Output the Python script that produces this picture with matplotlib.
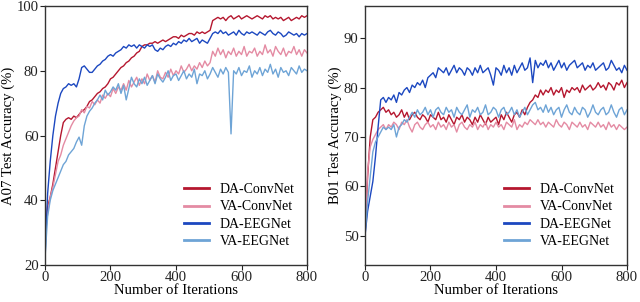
import numpy as np
import matplotlib
matplotlib.use("Agg")
import matplotlib.pyplot as plt

# iterations are sampled every 8 steps (0..800)
iters = np.arange(0, 801, 8)

# ---- A07 panel ----
da_conv_a = [28, 38, 41, 45, 50, 55, 60, 64, 65, 65.5,
             65, 66, 65.5, 66.5, 67.5, 68, 69, 70.5, 71, 72,
             73, 73.5, 74.5, 75, 76, 77.5, 78, 79, 80, 81,
             81.5, 82.5, 83, 84, 84.5, 85.5, 86, 87.5, 88, 88,
             88.5, 88.5, 89, 88.5, 89, 89.5, 89, 89.5, 90, 90.5,
             90.5, 90, 91, 90.5, 91, 91.5, 91.5, 91, 92, 91.5,
             92, 91.5, 92, 92.5, 95.5, 96, 96.5, 96, 96.5, 95.5,
             96.5, 97, 96, 96.5, 97, 96, 96.5, 97, 96.5, 96,
             96.5, 97, 96.5, 96, 97, 96.5, 97, 96, 96.5, 96,
             96.5, 95.5, 96, 96.5, 95.5, 96, 96.5, 96, 97, 96.5, 97]
va_conv_a = [28, 36, 41, 44, 48, 52, 54, 57, 59, 61,
             63, 64.5, 65.5, 66, 68, 67, 69, 68.5, 70.5, 69.5,
             71, 70, 72.5, 71.5, 73, 72, 74.5, 73, 75, 74,
             76, 74, 77, 75, 76.5, 78, 75.5, 77.5, 76, 79,
             77, 78.5, 76.5, 80, 78, 77.5, 79.5, 78, 80.5, 78.5,
             80, 79, 81.5, 79.5, 80.5, 82, 80, 81.5, 80.5, 82.5,
             81, 83, 81.5, 82.5, 86, 84.5, 87, 85, 86.5, 84,
             86, 85, 87, 84.5, 86, 85, 87.5, 84.5, 86, 85.5,
             87, 84.5, 86, 85, 88, 85.5, 86.5, 84.5, 87.5, 86,
             85, 87, 84.5, 86, 85.5, 87.5, 85, 86.5, 84.5, 86.5, 85.5]
da_eeg_a = [22, 42, 52, 60, 66, 70, 73, 74.5, 75, 76,
            75.5, 76, 75, 77.5, 81, 81.5, 80.5, 79.5, 79.5, 80.5,
            81.5, 82, 83, 83.5, 84.5, 85, 84.5, 85.5, 86, 86.5,
            87.5, 87, 88, 87.5, 88, 87, 88, 87.5, 87, 88,
            87.5, 88, 86.5, 86, 87, 86.5, 87.5, 88, 87.5, 88.5,
            88, 89, 88.5, 89.5, 89, 90, 89, 89.5, 90, 88.5,
            89.5, 89, 88.5, 90, 91.5, 92, 91.5, 92.5, 91.5, 92,
            91, 91.5, 92, 91, 92.5, 91.5, 91, 92, 91.5, 92,
            91.5, 91, 92, 91.5, 91, 92, 92.5, 91.5, 91, 92,
            91.5, 90.5, 91, 92, 91.5, 91, 91.5, 90.5, 91.5, 91, 91.5]
va_eeg_a = [22, 35, 40, 43, 45, 47, 49, 51, 52, 54,
            55, 56, 58, 59.5, 57, 63, 66, 67.5, 68.5, 70,
            71, 72.5, 71, 74, 72.5, 73.5, 75, 74, 76, 73,
            75.5, 71, 74.5, 78, 76, 75, 77.5, 76, 78, 75.5,
            77, 78.5, 76, 79, 77.5, 76.5, 78, 80, 77, 78.5,
            79, 77, 78.5, 80, 77.5, 79, 78, 80.5, 76, 79,
            78.5, 80, 77.5, 79, 81, 79.5, 78, 80.5, 79, 81,
            79.5, 60.5, 80, 79, 81, 78.5, 80, 79.5, 81.5, 78,
            80, 79, 81, 78.5, 80.5, 79.5, 82, 79, 80.5, 78,
            81, 79.5, 80, 78.5, 81, 80, 79, 81.5, 79.5, 80.5, 80]

# ---- B01 panel ----
da_conv_b = [50, 62, 70, 73.5, 74, 75, 75.5, 76, 75, 75.5,
             74.5, 75, 74, 74.5, 75.5, 74, 75, 73.5, 74.5, 75,
             74, 73.5, 74.5, 74, 73, 74.5, 74, 73.5, 75, 73.5,
             74, 73, 74.5, 73.5, 72.5, 74, 73.5, 74.5, 73, 74,
             73.5, 72.5, 74, 73, 74.5, 73.5, 72.5, 74, 73, 73.5,
             74, 72.5, 74.5, 73.5, 75, 74, 73, 74.5, 75, 74,
             75.5, 74.5, 76, 77, 77.5, 78.5, 78, 79.5, 78.5, 79.5,
             79, 80, 78.5, 79.5, 79, 80, 78, 79.5, 79, 80,
             79.5, 80, 79, 80.5, 79.5, 80, 80.5, 79.5, 80, 81,
             80, 80.5, 79.5, 81, 80.5, 79.5, 81, 80.5, 81.5, 80, 81]
va_conv_b = [50, 63, 68, 69.5, 70.5, 71.5, 72, 72.5, 71.5, 72.5,
             72, 73, 72.5, 71.5, 73, 72.5, 73.5, 72, 71, 72.5,
             73, 72, 71.5, 72.5, 73, 72, 72.5, 71.5, 73, 72,
             72.5, 71.5, 73, 72, 72.5, 71, 72.5, 73, 72, 71.5,
             72.5, 72, 73, 71.5, 72.5, 72, 73, 71.5, 72.5, 72,
             73, 72, 72.5, 71.5, 73, 72.5, 72, 73.5, 71.5, 72.5,
             72, 73, 72.5, 73.5, 73, 72.5, 73.5, 72.5, 73, 72,
             73, 72.5, 72, 73.5, 72.5, 72, 73, 72.5, 71.5, 73,
             72.5, 72, 73, 72, 72.5, 71.5, 73, 72.5, 72, 73,
             72, 72.5, 71.5, 73, 72, 72.5, 71.5, 72.5, 72, 71.5, 72]
da_eeg_b = [50, 55, 58, 61, 66, 72, 77.5, 78, 77, 78,
            77.5, 78.5, 77, 79, 78.5, 79.5, 80, 79, 80.5, 80,
            81, 80.5, 81.5, 80, 82, 82.5, 83, 82, 84, 83.5,
            83, 84, 82.5, 83.5, 84.5, 83, 84, 83.5, 82.5, 84,
            83.5, 82.5, 84, 83, 84.5, 83, 83.5, 84, 82.5, 80.5,
            84, 83.5, 82.5, 84.5, 83, 84, 82.5, 84.5, 83, 84,
            85, 83.5, 84, 86, 81, 85.5, 84, 85, 84.5, 85.5,
            84, 85, 83.5, 84.5, 85.5, 84, 85, 83.5, 84.5, 85,
            85.5, 84, 84.5, 85, 83.5, 84.5, 84, 85, 83.5, 84,
            84.5, 85, 83.5, 84, 85.5, 84.5, 83.5, 84, 83, 84.5, 83.5]
va_eeg_b = [50, 57, 62, 67, 69, 70, 71, 72, 71.5, 72,
            71.5, 72.5, 70, 72, 72.5, 73.5, 73, 74, 75, 74,
            75.5, 74.5, 75, 76, 74.5, 75.5, 74, 75.5, 76, 75,
            74.5, 76, 75, 75.5, 74, 76, 75, 74.5, 75.5, 76.5,
            74, 75.5, 75, 76, 74.5, 75, 76.5, 74.5, 75, 76,
            75.5, 74, 75.5, 76, 74.5, 75, 76, 74.5, 75.5, 74,
            75, 76, 74.5, 75.5, 76.5, 77, 75.5, 76, 75, 76.5,
            75, 76, 74.5, 75.5, 76, 74, 75.5, 76.5, 75, 74.5,
            76, 75, 74.5, 76, 75.5, 74, 75, 76.5, 75, 74.5,
            75.5, 76, 74.5, 75, 76.5, 75, 74, 75.5, 76, 74.5, 75.5]

labels = ["DA-ConvNet", "VA-ConvNet", "DA-EEGNet", "VA-EEGNet"]
colors = ["#b5172f", "#e48ba3", "#1c48c0", "#6ea4d6"]

plt.rcParams["font.family"] = ["Liberation Serif", "DejaVu Serif"]
plt.rcParams["font.size"] = 10.6

fig = plt.figure(figsize=(6.4, 3.02), dpi=100)
ax1 = fig.add_axes([0.0703, 0.1225, 0.4094, 0.8576])
ax2 = fig.add_axes([0.5703, 0.1225, 0.4094, 0.8576])

panels = [
    (ax1, [da_conv_a, va_conv_a, da_eeg_a, va_eeg_a], "A07 Test Accuracy (%)", (20, 100), [20, 40, 60, 80, 100]),
    (ax2, [da_conv_b, va_conv_b, da_eeg_b, va_eeg_b], "B01 Test Accuracy (%)", (44.1, 96.5), [50, 60, 70, 80, 90]),
]

for ax, series, ylab, ylim, yt in panels:
    for s, lab, c in zip(series, labels, colors):
        ax.plot(iters, s, color=c, lw=1.0, label=lab)
    ax.set_xlim(0, 800)
    ax.set_ylim(*ylim)
    ax.set_xticks([0, 200, 400, 600, 800])
    ax.set_yticks(yt)
    ax.set_xlabel("Number of Iterations", labelpad=0)
    ax.set_ylabel(ylab, labelpad=1)
    ax.tick_params(direction="out", length=3.5, width=0.8, pad=1, colors="#222222")
    for sp in ax.spines.values():
        sp.set_color("#333333")
        sp.set_linewidth(1.0)
    leg = ax.legend(loc="lower right", bbox_to_anchor=(0.975, 0.045), borderaxespad=0,
                    frameon=False, fontsize=10, handlelength=1.8,
                    handletextpad=0.8, labelspacing=0.3)
    for h in leg.legend_handles:
        h.set_linewidth(2.0)

fig.savefig("out.png", dpi=100)
